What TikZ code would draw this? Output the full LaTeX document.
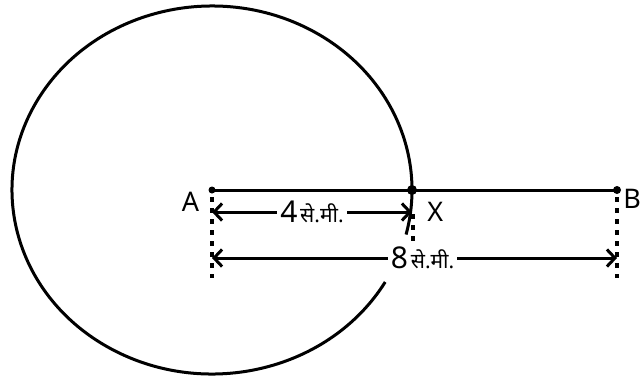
\documentclass[tikz,border=0pt]{standalone}
\usepackage{fontspec}
\setmainfont{Noto Sans}
\newfontfamily\hindi[Script=Devanagari]{Noto Sans}
\usetikzlibrary{arrows.meta,positioning,calc}
\tikzstyle{dot} = [circle, fill, inner sep=0pt, minimum size=7pt]
\tikzstyle{letter} = [inner sep=0pt, font=\fontsize{27}{27}\selectfont]
\tikzstyle{rim} = [draw, line width=3pt]
\tikzstyle{seg} = [draw, line width=3pt]
\tikzstyle{guide} = [draw, line width=3.4pt, dash pattern=on 5pt off 6pt]
\tikzstyle{dim} = [draw, line width=3pt,
{Straight Barb[length=8pt,width=17pt,line width=3pt]}-{Straight Barb[length=8pt,width=17pt,line width=3pt]}]
\tikzstyle{len} = [fill=white, inner xsep=3pt, inner ysep=1pt]
\newcommand{\cm}{{\hindi\fontsize{21}{21}\selectfont से.मी.}}
\newcommand{\num}[1]{{\fontsize{30}{30}\selectfont #1}}

\begin{document}
\begin{tikzpicture}[x=1pt, y=-1pt]
			\useasboundingbox (0,0) rectangle (642,378);
			% Place points
			\coordinate (A) at (212,190);
			\coordinate (X) at (412,190);
			\coordinate (B) at (617,190);
			\coordinate (A1) at ($(A)+(0,22)$);
			\coordinate (X1) at ($(X)+(0,22)$);
			\coordinate (A2) at ($(A)+(0,68)$);
			\coordinate (B2) at ($(B)+(0,68)$);
			% circle, open below X
			\draw [rim] ($(A)+(30:200 and 184)$) arc [start angle=30, end angle=374,
			x radius=200, y radius=184];
			\path [seg] (A) -- (B);
			\node [dot, minimum size=7pt] (dotA) at (A) {};
			\node [dot, minimum size=10pt] (dotX) at (X) {};
			\node [dot, minimum size=8pt] (dotB) at (B) {};
			\node [letter, left=9pt of dotA, yshift=-12pt] (labA) {A};
			\node [letter, right=10pt of dotX, yshift=-22pt] (labX) {X};
			\node [letter, right=2pt of dotB, yshift=-9pt] (labB) {B};
			% guides
			\path [guide] ($(A)+(0,7)$) -- ($(A)+(0,88)$);
			\path [guide] ($(X)+(1,24)$) -- ($(X)+(1,60)$);
			\path [guide] ($(B)+(0,7)$) -- ($(B)+(0,88)$);
			% lengths
			\path [dim] (A1) -- node [len] (len4) {\num{4}\;\cm} (X1);
			\path [dim] (A2) -- node [len, pos=0.52] (len8) {\num{8}\;\cm} (B2);
		\end{tikzpicture}
\end{document}
